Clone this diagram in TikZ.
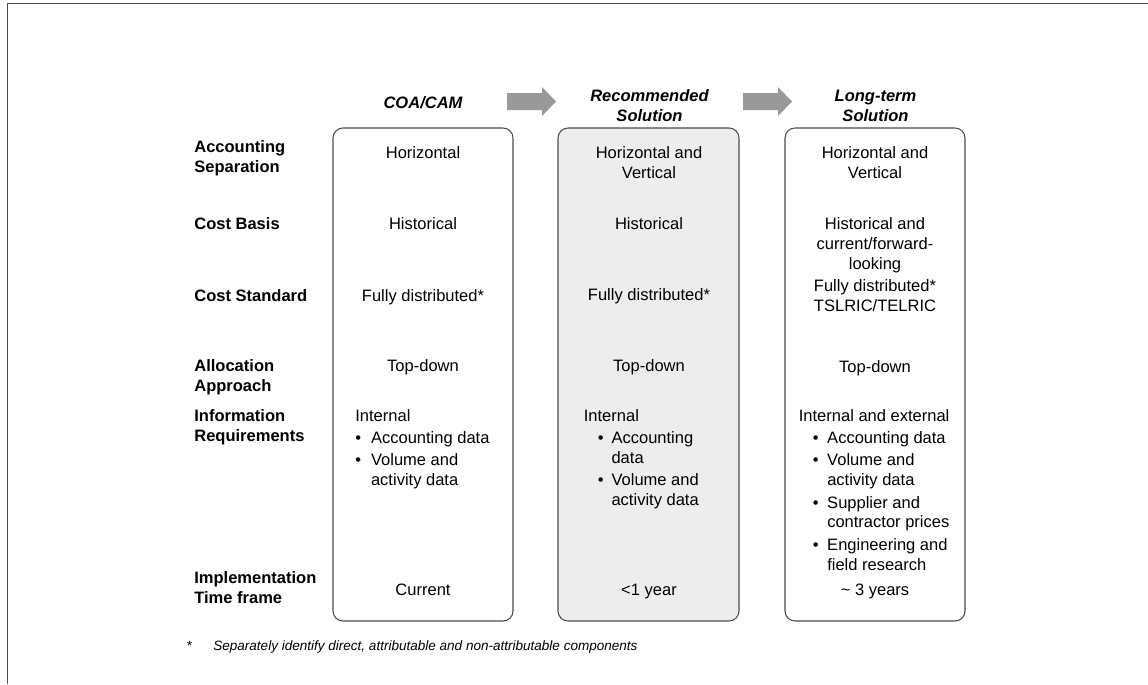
\documentclass[tikz,border=0pt]{standalone}
\usepackage{fontspec}
\setmainfont{Liberation Sans}
\definecolor{boxline}{gray}{0.3}
\definecolor{shade}{gray}{0.93}
\definecolor{arrowgray}{gray}{0.6}

\begin{document}
\begin{tikzpicture}[x=0.02cm,y=-0.02cm,
  every node/.style={inner sep=0pt,font=\fontsize{9.4}{11.3}\selectfont},
  row label/.style={anchor=north west,align=left,font=\fontsize{9.4}{11.3}\selectfont\bfseries},
  cell/.style={anchor=north,align=center},
  list/.style={anchor=north west,align=left},
  head/.style={anchor=north,align=center,font=\fontsize{9.4}{11.3}\selectfont\bfseries\itshape},
  col box/.style={draw=boxline,line width=0.6pt,rounded corners=0.2cm},
  note/.style={anchor=base west,font=\fontsize{7.7}{9}\selectfont\itshape}]
  \useasboundingbox (0,0) rectangle (1148,684);
  \draw[boxline,line width=0.6pt] (1148,3.5) -- (7.5,3.5) -- (7.5,684);

  % the three columns
  \draw[col box] (333,128) rectangle (513,621);
  \draw[col box,fill=shade] (558,128) rectangle (739,621);
  \draw[col box] (785,128) rectangle (965,621);

  \node[head] (coa) at (423,96.5) {COA/CAM};
  \node[head] (rec) at (649.5,89) {Recommended\\Solution};
  \node[head] (long) at (875.5,90) {Long-term\\Solution};

  \fill[arrowgray] (507,93) -- (542,93) -- (542,87) -- (556,101.5) -- (542,116) -- (542,110) -- (507,110) -- cycle;
  \fill[arrowgray] (743,93) -- (778,93) -- (778,87) -- (792,101.5) -- (778,116) -- (778,110) -- (743,110) -- cycle;

  % row labels
  \node[row label] (sep) at (194,140.5) {Accounting\\Separation};
  \node[row label] (basis) at (194,217) {Cost Basis};
  \node[row label] (std) at (194,289) {Cost Standard};
  \node[row label] (alloc) at (194,359.5) {Allocation\\Approach};
  \node[row label] (info) at (194,409) {Information\\Requirements};
  \node[row label] (impl) at (194,571) {Implementation\\Time frame};

  % COA/CAM
  \node[cell] (coa sep) at (423,146.5) {Horizontal};
  \node[cell] (coa basis) at (423,217) {Historical};
  \node[cell] (coa std) at (423,289) {Fully distributed*};
  \node[cell] (coa alloc) at (423,359) {Top-down};
  \node[list] (coa info) at (355,409) {Internal\\[1.4pt]
    \makebox[0.314cm][l]{\textbullet}Accounting data\\[1.4pt]
    \makebox[0.314cm][l]{\textbullet}Volume and\\
    \hspace*{0.314cm}activity data};
  \node[cell] (coa impl) at (423,583.5) {Current};

  % recommended solution
  \node[cell] (rec sep) at (649,146.5) {Horizontal and\\Vertical};
  \node[cell] (rec basis) at (649,217) {Historical};
  \node[cell] (rec std) at (649,288) {Fully distributed*};
  \node[cell] (rec alloc) at (649,359) {Top-down};
  \node[list] (rec info) at (583.5,409) {Internal\\[1.4pt]
    \hspace*{0.28cm}\makebox[0.274cm][l]{\textbullet}Accounting\\
    \hspace*{0.554cm}data\\[1.4pt]
    \hspace*{0.28cm}\makebox[0.274cm][l]{\textbullet}Volume and\\
    \hspace*{0.554cm}activity data};
  \node[cell] (rec impl) at (649,584) {<1 year};

  % long-term solution
  \node[cell] (long sep) at (875,146) {Horizontal and\\Vertical};
  \node[cell] (long basis) at (875,217) {Historical and\\current/forward-\\looking};
  \node[cell] (long std) at (875,279) {Fully distributed*\\TSLRIC/TELRIC};
  \node[cell] (long alloc) at (875,360) {Top-down};
  \node[list] (long info) at (798.5,409) {Internal and external\\[1.4pt]
    \hspace*{0.28cm}\makebox[0.288cm][l]{\textbullet}Accounting data\\[1.4pt]
    \hspace*{0.28cm}\makebox[0.288cm][l]{\textbullet}Volume and\\
    \hspace*{0.568cm}activity data\\[1.4pt]
    \hspace*{0.28cm}\makebox[0.288cm][l]{\textbullet}Supplier and\\
    \hspace*{0.568cm}contractor prices\\[1.4pt]
    \hspace*{0.28cm}\makebox[0.288cm][l]{\textbullet}Engineering and\\
    \hspace*{0.568cm}field research};
  \node[cell] (long impl) at (875,583.5) {\textasciitilde\ 3 years};

  % footnote
  \node[note] (star) at (186,650.5) {*};
  \node[note] (footnote) at (213,650.5) {Separately identify direct, attributable and non-attributable components};
\end{tikzpicture}
\end{document}
